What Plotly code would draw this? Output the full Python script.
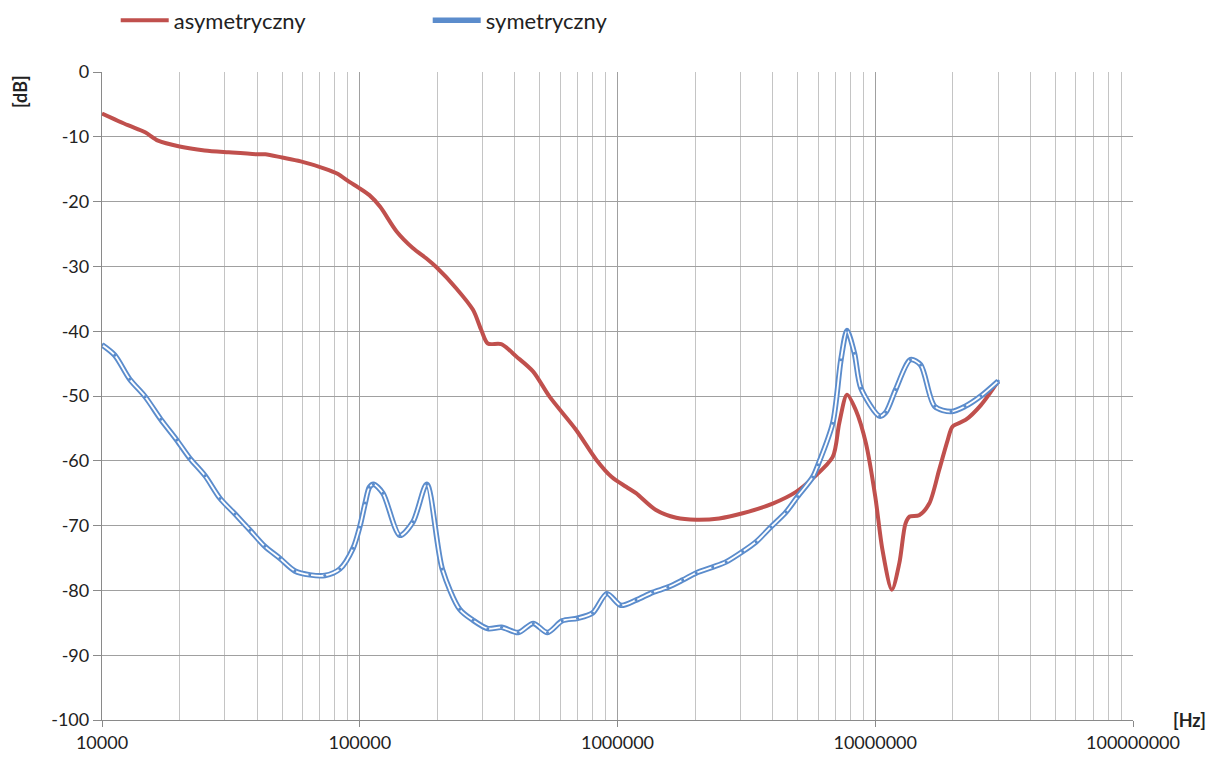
import plotly.graph_objects as go

# --- data ---
asym_f = [1e4, 1.26e4, 1.47e4, 1.65e4, 2e4, 2.5e4, 3.1e4, 4.0e4, 4.3e4, 5.0e4, 5.9e4, 7.3e4, 8.2e4,
          9.15e4, 9.85e4, 1.09e5, 1.2e5, 1.39e5, 1.61e5, 1.81e5, 1.98e5, 2.37e5, 2.75e5, 2.96e5,
          3.14e5, 3.54e5, 4.05e5, 4.7e5, 5.45e5, 6.9e5, 8.3e5, 9.5e5, 1.08e6, 1.18e6, 1.41e6,
          1.69e6, 2.02e6, 2.48e6, 3.06e6, 4.0e6, 4.93e6, 5.72e6, 6.84e6, 7.25e6, 7.77e6, 8.41e6,
          9.2e6, 1.0e7, 1.067e7, 1.16e7, 1.24e7, 1.31e7, 1.36e7, 1.48e7, 1.62e7, 1.77e7, 1.91e7,
          1.995e7, 2.24e7, 2.57e7, 3e7]
asym_db = [-6.4, -8.2, -9.3, -10.6, -11.5, -12.1, -12.4, -12.7, -12.7, -13.2, -13.8, -14.9, -15.7,
           -17.0, -17.8, -19.0, -20.8, -24.6, -27.2, -28.75, -30.1, -33.4, -36.7, -39.8,
           -41.9, -42.0, -43.9, -46.2, -50.1, -55.2, -59.9, -62.5, -64.0, -65.0, -67.6,
           -68.8, -69.1, -68.9, -68.1, -66.6, -64.8, -62.7, -59.4, -54.2, -49.8, -52.2,
           -57.3, -65.5, -73.8, -79.9, -75.8, -69.7, -68.6, -68.4, -66.6, -61.4, -56.8,
           -54.7, -53.7, -51.4, -47.7]

sym_f = [1e4, 1.12e4, 1.28e4, 1.47e4, 1.69e4, 1.95e4, 2.19e4, 2.51e4, 2.87e4, 3.28e4, 3.75e4,
         4.28e4, 4.9e4, 5.6e4, 6.4e4, 7.32e4, 8.37e4, 9.42e4, 1.0e5, 1.05e5, 1.09e5, 1.13e5,
         1.23e5, 1.43e5, 1.61e5, 1.82e5, 2.09e5, 2.44e5, 2.75e5, 3.14e5, 3.55e5, 4.12e5, 4.71e5,
         5.35e5, 6.1e5, 7.0e5, 8.0e5, 9.1e5, 1.03e6, 1.18e6, 1.37e6, 1.57e6, 1.79e6, 2.02e6,
         2.34e6, 2.64e6, 3.06e6, 3.45e6, 3.94e6, 4.51e6, 5.0e6, 5.72e6, 6.0e6, 6.84e6, 7.36e6,
         7.77e6, 8.3e6, 8.8e6, 1.04e7, 1.1e7, 1.2e7, 1.37e7, 1.5e7, 1.7e7, 1.97e7, 2.23e7,
         2.57e7, 3e7]
sym_db = [-42.1, -43.7, -47.4, -50.1, -53.6, -56.8, -59.6, -62.3, -65.8, -68.2, -70.7,
          -73.2, -75.05, -77.0, -77.6, -77.7, -76.7, -73.5, -70.2, -66.5, -64.1, -63.6,
          -65.0, -71.5, -69.4, -63.6, -76.7, -82.9, -84.6, -85.9, -85.7, -86.5, -85.1,
          -86.5, -84.7, -84.3, -83.5, -80.5, -82.3, -81.5, -80.3, -79.5, -78.4, -77.3,
          -76.4, -75.6, -74.0, -72.5, -70.2, -67.9, -65.5, -62.5, -60.6, -54.2, -44.4,
          -39.9, -43.4, -48.8, -53.1, -52.5, -49.0, -44.4, -45.2, -51.6, -52.4, -51.6,
          -50.0, -47.7]

x_ticks = [1e4, 1e5, 1e6, 1e7, 1e8]
x_ticktext = ["10000", "100000", "1000000", "10000000", "100000000"]
y_ticks = list(range(-100, 1, 10))
y_ticktext = [str(v) for v in y_ticks]
minor_x = [m * d for d in [1e4, 1e5, 1e6, 1e7] for m in range(2, 10)]

RED = "#c0504d"
BLUE = "#5b8ccc"
FONT = "Lato, 'Noto Sans', sans-serif"

fig = go.Figure()
fig.add_trace(go.Scatter(x=asym_f, y=asym_db, mode="lines", name="asymetryczny",
                         line=dict(color=RED, width=4, shape="spline", smoothing=0.8)))
fig.add_trace(go.Scatter(x=sym_f, y=sym_db, mode="lines", name="symetryczny",
                         line=dict(color=BLUE, width=5.5, shape="spline", smoothing=0.8)))
fig.add_trace(go.Scatter(x=sym_f, y=sym_db, mode="lines+markers", showlegend=False,
                         line=dict(color="white", width=1.8, shape="spline", smoothing=0.8),
                         marker=dict(color=BLUE, size=3), hoverinfo="skip"))

fig.update_layout(
    width=1224, height=771,
    margin=dict(l=94, r=99, t=64, b=59, autoexpand=False),
    paper_bgcolor="white", plot_bgcolor="white",
    font=dict(family=FONT, size=18, color="#222"),
    showlegend=True,
    legend=dict(orientation="h", xref="container", yref="container",
                x=0.088, xanchor="left", y=0.984, yanchor="middle",
                entrywidth=249, entrywidthmode="pixels",
                font=dict(family=FONT, size=22, color="#222"), itemwidth=48,
                bgcolor="rgba(0,0,0,0)"),
    xaxis=dict(type="log", range=[4, 8], tickmode="array", tickvals=x_ticks, ticktext=x_ticktext,
               showgrid=True, gridcolor="#a0a0a0", gridwidth=1.3,
               showline=True, linecolor="#8a8a8a", linewidth=1.3,
               ticks="outside", ticklen=6, tickcolor="#8a8a8a",
               minor=dict(tickmode="array", tickvals=minor_x, showgrid=True,
                          gridcolor="#c4c4c4", gridwidth=1),
               zeroline=False, automargin=False, tickfont=dict(size=18)),
    yaxis=dict(range=[-100, 0], tickmode="array", tickvals=y_ticks, ticktext=y_ticktext,
               showgrid=True, gridcolor="#a0a0a0", gridwidth=1.3,
               showline=True, linecolor="#8a8a8a", linewidth=1.3,
               ticks="outside", ticklen=8, tickcolor="#8a8a8a",
               zeroline=False, automargin=False, tickfont=dict(size=18)),
    annotations=[
        dict(text="<b>[dB]</b>", xref="paper", yref="paper", x=-0.079, y=0.97,
             textangle=-90, showarrow=False, font=dict(size=18, family=FONT),
             xanchor="center", yanchor="middle"),
        dict(text="<b>[Hz]</b>", xref="paper", yref="paper", x=1.055, y=0.0,
             showarrow=False, font=dict(size=18, family=FONT),
             xanchor="center", yanchor="middle"),
    ],
)

fig.write_html("out.html")
